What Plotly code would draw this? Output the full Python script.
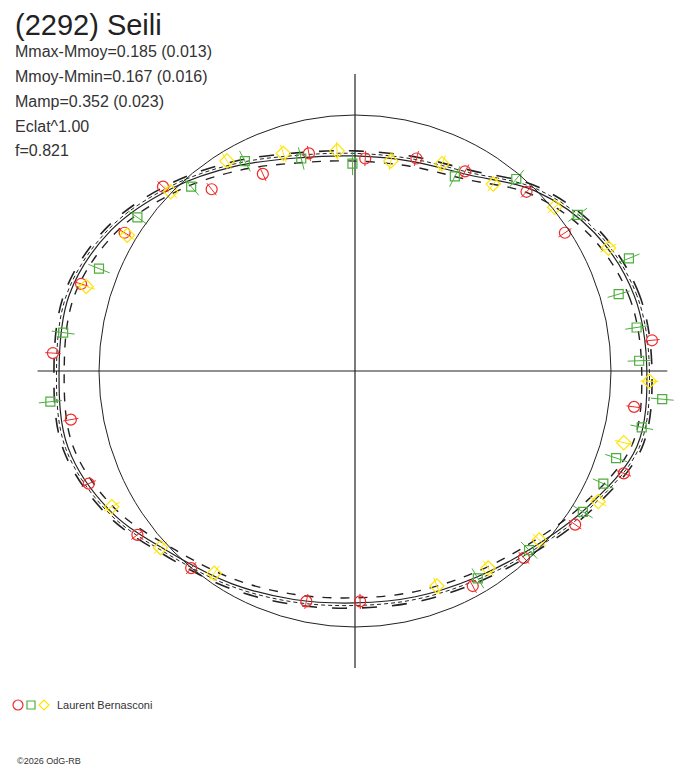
import numpy as np
import plotly.graph_objects as go

# observations, units = radius of the reference circle
red_x = [-0.75, -0.56, -0.36, -0.18, 0.04, 0.24, 0.43, 0.67, 0.82, 1.16, 1.09, 1.05,
         0.86, 0.66, 0.46, 0.02, -0.19, -0.64, -0.85, -1.04, -1.11, -1.18, -1.07, -0.90]
red_y = [0.72, 0.71, 0.77, 0.85, 0.83, 0.83, 0.78, 0.70, 0.54, 0.12, -0.14, -0.40,
         -0.60, -0.73, -0.84, -0.90, -0.90, -0.77, -0.64, -0.44, -0.19, 0.07, 0.34, 0.54]

green_x = [-0.64, -0.43, -0.21, -0.01, 0.39, 0.63, 0.87, 1.07, 1.03, 1.10, 1.11,
           1.20, 1.12, 1.02, 0.97, 0.89, 0.68, 0.48, -1.19, -1.14, -1.00, -0.85]
green_y = [0.72, 0.82, 0.83, 0.81, 0.76, 0.75, 0.61, 0.44, 0.30, 0.17, 0.04,
           -0.11, -0.22, -0.34, -0.44, -0.55, -0.70, -0.81, -0.12, 0.15, 0.40, 0.60]

yellow_x = [-0.72, -0.50, -0.28, -0.07, 0.14, 0.34, 0.54, 0.78, 0.99, 1.15,
            1.05, 0.95, 0.72, 0.52, 0.32, -0.55, -0.76, -0.95, -0.89, -1.05]
yellow_y = [0.70, 0.82, 0.85, 0.86, 0.82, 0.81, 0.73, 0.64, 0.48, -0.04,
            -0.28, -0.51, -0.66, -0.77, -0.84, -0.79, -0.69, -0.53, 0.53, 0.33]

red_err = 0.03
green_err = 0.045
yellow_err = 0.035

# fitted curve, radius every 15 degrees
fit_angle = list(range(0, 360, 15))
fit_r = [1.14, 1.13, 1.08, 0.995, 0.885, 0.848, 0.84, 0.862, 0.925, 1.01, 1.10, 1.155,
         1.156, 1.16, 1.10, 1.01, 0.96, 0.924, 0.906, 0.913, 0.934, 0.978, 1.054, 1.14]
fit_spread = 0.02

info_lines = ['Mmax-Mmoy=0.185 (0.013)', 'Mmoy-Mmin=0.167 (0.016)',
              'Mamp=0.352 (0.023)', 'Eclat^1.00', 'f=0.821']

# page body keeps an 8px margin, so the figure is a bit smaller than the window
PAD = 8
W, H = 688 - PAD, 768 - PAD
CX, CY, SCALE = 355 - PAD, 371 - PAD, 256
INK = '#222222'
RED, GREEN, YELLOW = '#ee2a2a', '#4caf3c', '#ffe400'


def radial_bars(xs, ys, err):
    bx, by = [], []
    for x, y in zip(xs, ys):
        r = np.hypot(x, y)
        ux, uy = x / r, y / r
        bx += [ux * (r - err), ux * (r + err), None]
        by += [uy * (r - err), uy * (r + err), None]
    return bx, by


def curve(offset):
    th = np.radians(fit_angle + [360])
    r = np.array(fit_r + [fit_r[0]]) + offset
    return r * np.cos(th), r * np.sin(th)


fig = go.Figure()

# crosshair
fig.add_trace(go.Scatter(x=[-1.24, 1.22, None, 0, 0], y=[0, 0, None, 1.16, -1.16],
                         mode='lines', line=dict(color=INK, width=1.2), hoverinfo='skip'))

# fit and its envelopes
for off, dash, w in [(0, 'solid', 1.2), (fit_spread, 'longdash', 1.6),
                     (-fit_spread, 'dash', 1.4), (fit_spread / 2, '4px,3px', 1.0)]:
    fx, fy = curve(off)
    fig.add_trace(go.Scatter(x=fx, y=fy, mode='lines',
                             line=dict(color=INK, width=w, dash=dash, shape='spline', smoothing=1.0),
                             hoverinfo='skip'))

for xs, ys, err, col, sym, size in [(red_x, red_y, red_err, RED, 'circle-open', 11),
                                    (green_x, green_y, green_err, GREEN, 'square-open', 9),
                                    (yellow_x, yellow_y, yellow_err, YELLOW, 'diamond-open', 11)]:
    bx, by = radial_bars(xs, ys, err)
    fig.add_trace(go.Scatter(x=bx, y=by, mode='lines', line=dict(color=col, width=1),
                             hoverinfo='skip'))
    fig.add_trace(go.Scatter(x=xs, y=ys, mode='markers',
                             marker=dict(symbol=sym, size=size, color=col, line=dict(width=1.2))))

# reference circle
fig.add_shape(type='circle', xref='x', yref='y', x0=-1, y0=-1, x1=1, y1=1,
              line=dict(color=INK, width=1))


def px(x):
    return (x - PAD) / W


def py(y):
    return 1 - (y - PAD) / H


# legend keys
fig.add_shape(type='circle', xref='paper', yref='paper', x0=px(13), x1=px(23), y0=py(710), y1=py(700),
              line=dict(color=RED, width=1.2))
fig.add_shape(type='rect', xref='paper', yref='paper', x0=px(27), x1=px(35), y0=py(709), y1=py(701),
              line=dict(color=GREEN, width=1.2))
fig.add_shape(type='path', xref='paper', yref='paper',
              path=f'M {px(39)} {py(705)} L {px(44)} {py(700)} L {px(49)} {py(705)} L {px(44)} {py(710)} Z',
              line=dict(color=YELLOW, width=1.2))

font = 'Liberation Sans, Arial, sans-serif'
fig.add_annotation(text='(2292) Seili', x=px(14), y=py(8), xref='paper', yref='paper',
                   xanchor='left', yanchor='top', showarrow=False, borderpad=0,
                   font=dict(family=font, size=29, color=INK))
for i, t in enumerate(info_lines):
    fig.add_annotation(text=t, x=px(14), y=py(51 + 25 * i), xref='paper', yref='paper',
                       xanchor='left', yanchor='middle', showarrow=False, borderpad=0,
                       font=dict(family=font, size=16, color='#333333'))
fig.add_annotation(text='Laurent Bernasconi', x=px(55), y=py(705), xref='paper', yref='paper',
                   xanchor='left', yanchor='middle', showarrow=False,
                   font=dict(family=font, size=11, color='#333333'))
fig.add_annotation(text='©2026 OdG-RB', x=px(15), y=py(761), xref='paper', yref='paper',
                   xanchor='left', yanchor='middle', showarrow=False,
                   font=dict(family=font, size=9, color='#333333'))

fig.update_layout(width=W, height=H, autosize=False, showlegend=False,
                  margin=dict(l=0, r=0, t=0, b=0),
                  plot_bgcolor='white', paper_bgcolor='white',
                  xaxis=dict(visible=False, range=[-CX / SCALE, (W - CX) / SCALE]),
                  yaxis=dict(visible=False, range=[-(H - CY) / SCALE, CY / SCALE]))

fig.write_html('out.html')
